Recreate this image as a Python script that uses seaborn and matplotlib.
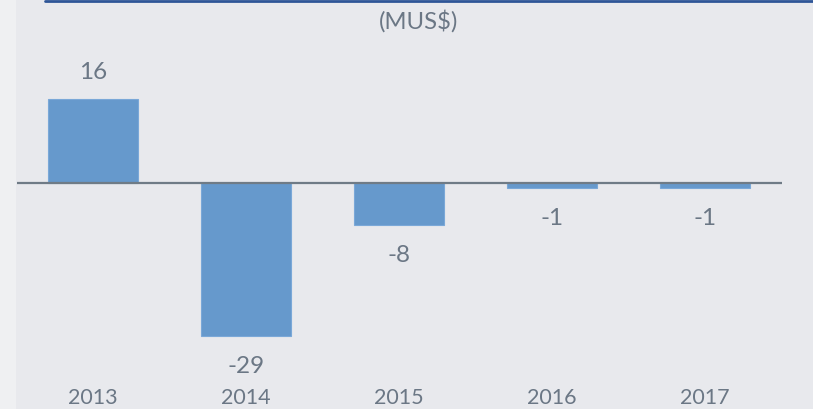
import matplotlib
matplotlib.use("Agg")
import matplotlib.pyplot as plt
import seaborn as sns
import pandas as pd
from matplotlib.lines import Line2D
from matplotlib.patches import Rectangle

years = ["2013", "2014", "2015", "2016", "2017"]
values = [16, -29, -8, -1, -1]
unit_label = "(MUS$)"

sns.set_theme(style="white")
plt.rcParams["font.family"] = ["Lato", "DejaVu Sans"]

BG = "#e8e9ed"
BAR = "#6699cc"
TXT = "#6b7785"

W, H, DPI = 813, 409, 100
fig = plt.figure(figsize=(W / DPI, H / DPI), dpi=DPI, facecolor=BG)

# lighter strip on the left edge
fig.patches.append(Rectangle((0, 0), 16 / W, 1, transform=fig.transFigure,
                             facecolor="#eff0f2", edgecolor="none", zorder=0))

ax = fig.add_axes([16.5 / W, 24 / H, 765 / W, 385 / H])
ax.set_facecolor(BG)

df = pd.DataFrame({"year": years, "value": values})
sns.barplot(data=df, x="year", y="value", hue="year", palette=[BAR] * len(years),
            legend=False, width=0.59, edgecolor="#7aa8d8", linewidth=0.8, ax=ax,
            saturation=1)

ax.set_xlim(-0.5, len(years) - 0.5)
ax.set_ylim(-38.3, 34.7)
ax.axhline(0, color="#6f7b86", linewidth=1.6, zorder=3)

for i, v in enumerate(values):
    off = 19 if v >= 0 else -22
    ax.annotate(str(v), (i, v), xytext=(0, off), textcoords="offset points",
                ha="center", va="center", fontsize=17.5, color=TXT)

ax.set_yticks([])
ax.set_xlabel("")
ax.set_ylabel("")
ax.tick_params(axis="x", length=0, pad=2, labelsize=15.5, labelcolor=TXT)
for s in ax.spines.values():
    s.set_visible(False)

fig.text(419 / W, 1 - 21 / H, unit_label, ha="center", va="center",
         fontsize=17.2, color=TXT)

# dark blue rule along the top
fig.add_artist(Line2D([45 / W, 1], [1 - 1 / H, 1 - 1 / H], transform=fig.transFigure,
                      color="#2e5597", linewidth=2))

fig.savefig("out.png", dpi=DPI, facecolor=BG)
